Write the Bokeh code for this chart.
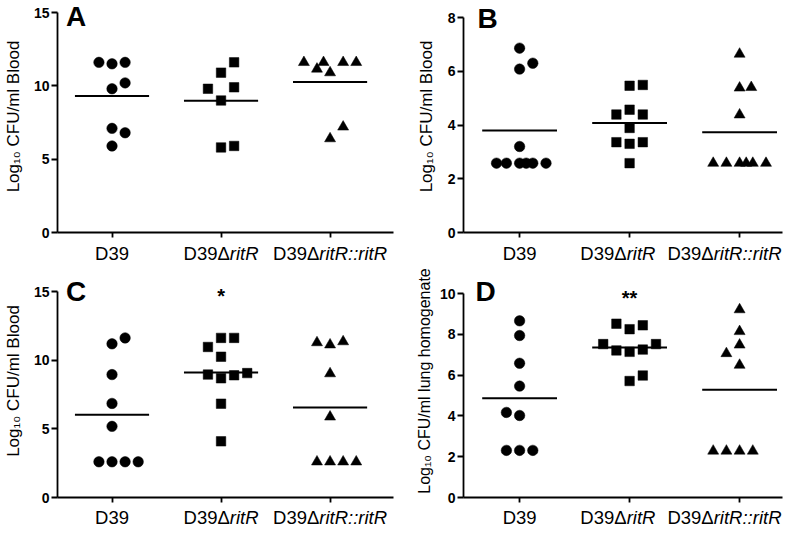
import numpy as np
from bokeh.plotting import figure
from bokeh.layouts import gridplot
from bokeh.models import Range1d, FixedTicker, Label
from bokeh.core.properties import value
from bokeh.embed import file_html
from bokeh.resources import INLINE

FONT = "Liberation Sans"

# ---- categories / tick labels (text part, italic?) ----
categories = ["D39", "D39ΔritR", "D39ΔritR::ritR"]
cat_label_parts = [
    [("D39", False)],
    [("D39Δ", False), ("ritR", True)],
    [("D39Δ", False), ("ritR::ritR", True)],
]
markers = ["circle", "square", "triangle"]
marker_sizes = [10.5, 9.5, 11]

# ---- Panel A : Log10 CFU/ml Blood ----
A_d39 = [11.6, 11.5, 11.6, 10.2, 9.8, 7.1, 6.8, 5.9]
A_d39_jit = [-0.12, 0, 0.12, 0.12, 0, 0, 0.12, 0]
A_ritR = [11.6, 10.9, 9.8, 9.9, 9.0, 5.8, 5.9]
A_ritR_jit = [0.12, 0, -0.12, 0.12, 0, 0, 0.12]
A_comp = [11.6, 11.15, 11.6, 10.9, 11.6, 11.6, 7.2, 6.4]
A_comp_jit = [-0.24, -0.12, -0.06, 0, 0.12, 0.24, 0.12, 0]
A_yticks = [0, 5, 10, 15]

# ---- Panel B ----
B_d39 = [6.86, 6.3, 6.08, 3.2, 2.58, 2.58, 2.58, 2.58, 2.58, 2.58]
B_d39_jit = [0, 0.12, 0, 0, -0.21, -0.12, 0, 0.06, 0.12, 0.24]
B_ritR = [5.46, 5.49, 4.57, 4.39, 4.39, 3.89, 3.36, 3.30, 3.36, 2.58]
B_ritR_jit = [0, 0.12, 0, -0.12, 0.12, 0, -0.12, 0, 0.12, 0]
B_comp = [6.64, 5.38, 5.40, 4.38, 2.58, 2.58, 2.58, 2.58, 2.58, 2.58]
B_comp_jit = [0, 0, 0.106, 0, -0.24, -0.12, 0, 0.06, 0.12, 0.24]
B_yticks = [0, 2, 4, 6, 8]

# ---- Panel C ----
C_d39 = [11.62, 11.19, 8.95, 6.85, 5.18, 2.6, 2.6, 2.6, 2.6]
C_d39_jit = [0.12, 0, 0, 0, 0, -0.12, 0, 0.12, 0.24]
C_ritR = [11.62, 11.62, 10.96, 10.25, 8.95, 8.90, 9.06, 8.68, 6.83, 4.09]
C_ritR_jit = [0, 0.12, -0.12, 0, -0.12, 0.12, 0.24, 0, 0, 0]
C_comp = [11.28, 11.12, 11.35, 9.02, 5.87, 2.6, 2.6, 2.6, 2.6]
C_comp_jit = [-0.12, 0, 0.12, 0, 0, -0.12, 0, 0.12, 0.24]
C_yticks = [0, 5, 10, 15]

# ---- Panel D : lung homogenate ----
D_d39 = [8.66, 7.94, 6.58, 5.46, 4.17, 4.02, 2.31, 2.31, 2.31]
D_d39_jit = [0, 0, 0, 0, -0.12, 0, -0.12, 0, 0.12]
D_ritR = [8.52, 8.25, 8.44, 7.52, 7.52, 7.21, 7.14, 7.25, 5.71, 5.98]
D_ritR_jit = [-0.12, 0, 0.12, -0.24, 0.24, -0.12, 0, 0.12, 0, 0.12]
D_comp = [9.21, 8.14, 7.48, 7.06, 6.49, 2.28, 2.28, 2.28, 2.28]
D_comp_jit = [0, 0, 0, -0.12, 0, -0.24, -0.12, 0, 0.12]
D_yticks = [0, 2, 4, 6, 8, 10]

# Arial/Liberation Sans advance widths (em) for label placement
CHAR_W = {'D': 0.722, '3': 0.556, '9': 0.556, 'Δ': 0.667, 'r': 0.333,
          'i': 0.222, 't': 0.278, 'R': 0.722, ':': 0.278}


def tw(s, fs):
    return sum(CHAR_W.get(c, 0.556) for c in s) * fs


PX = 110.0   # pixels per category unit
CAT_FS = 18.5
GAP = 12


def make_panel(groups, ymax, yticks, ylabel, ylabel_fs, ylabel_standoff,
               letter, letter_dx, letter_dy, W, bl, br, x_start,
               H, axis_top, bb, strip_h, strip_mid, star=None):
    frame_h = H - bb
    scale = (frame_h - axis_top) / ymax
    y_top = ymax + axis_top / scale
    frame_w = W - bl - br
    x_end = x_start + frame_w / PX
    xr = Range1d(x_start, x_end)
    p = figure(width=W, height=H, output_backend="svg", toolbar_location=None,
               x_range=xr, y_range=Range1d(0, y_top),
               min_border_left=bl, min_border_right=br, min_border_top=0,
               min_border_bottom=bb, title=None)
    p.outline_line_color = None
    p.grid.visible = False

    xa, ya = p.xaxis[0], p.yaxis[0]
    for ax in (xa, ya):
        ax.axis_line_color = "black"
        ax.axis_line_width = 1.8
        ax.major_tick_line_color = "black"
        ax.major_tick_line_width = 1.8
        ax.major_tick_in = 0
    ya.bounds = (0, ymax)
    ya.ticker = FixedTicker(ticks=yticks, minor_ticks=[])
    ya.minor_tick_line_color = None
    ya.major_tick_out = 6
    ya.major_label_standoff = 2
    ya.major_label_text_font = FONT
    ya.major_label_text_font_style = "bold"
    ya.major_label_text_font_size = "14px"
    ya.major_label_text_color = "black"
    ya.axis_label = ylabel
    ya.axis_label_text_font = FONT
    ya.axis_label_text_font_style = "normal"
    ya.axis_label_text_font_size = f"{ylabel_fs}px"
    ya.axis_label_text_color = "black"
    ya.axis_label_standoff = ylabel_standoff

    xa.ticker = FixedTicker(ticks=[], minor_ticks=[1, 2, 3])
    xa.major_tick_out = 0
    xa.major_label_standoff = 0
    xa.minor_tick_in = 0
    xa.minor_tick_out = 5
    xa.minor_tick_line_color = "black"
    xa.minor_tick_line_width = 1.8

    for i, (vals, jit) in enumerate(groups):
        cx = i + 1
        xs = [cx + j for j in jit]
        p.scatter(xs, vals, marker=markers[i], size=marker_sizes[i],
                  fill_color="black", line_color="black", line_width=0.5)
        m = float(np.mean(vals))
        p.segment(x0=[cx - 0.34], y0=[m], x1=[cx + 0.34], y1=[m],
                  line_color="black", line_width=2)

    p.add_layout(Label(x=1, y=ymax, x_offset=letter_dx, y_offset=letter_dy,
                       text=letter, text_font=FONT, text_font_size="28px",
                       text_font_style="bold", text_align="left",
                       text_baseline="middle", text_color="black"))
    if star is not None:
        p.add_layout(Label(x=2, y=ymax, y_offset=-4.6, text=star, text_font=FONT,
                           text_font_size="20px", text_font_style="bold",
                           text_align="center", text_baseline="middle",
                           text_color="black"))

    # strip below the panel carrying the category labels (roman + italic parts)
    s = figure(width=W, height=strip_h, output_backend="svg", toolbar_location=None,
               x_range=xr, y_range=Range1d(0, strip_h),
               x_axis_location=None, y_axis_location=None,
               min_border_left=bl, min_border_right=br, min_border_top=0,
               min_border_bottom=0, title=None)
    s.outline_line_color = None
    s.grid.visible = False
    fs = CAT_FS
    widths = [sum(tw(t, fs) for t, _ in parts) for parts in cat_label_parts]
    # absolute left edges in px (category unit -> px)
    lefts = [(i + 1) * PX - w / 2 for i, w in enumerate(widths)]
    right_lim = x_end * PX - 1
    n = len(widths)
    lefts[-1] = min(lefts[-1], right_lim - widths[-1])
    for i in range(n - 2, -1, -1):
        if lefts[i] + widths[i] + GAP > lefts[i + 1]:
            lefts[i] = lefts[i + 1] - GAP - widths[i]
    for i, parts in enumerate(cat_label_parts):
        cx = i + 1
        off = lefts[i] - cx * PX
        for t, it in parts:
            s.text(x=[cx], y=[strip_mid], text=[t], x_offset=off,
                   text_font=value(FONT), text_font_size=value(f"{fs}px"),
                   text_font_style=value("italic" if it else "normal"),
                   text_align=value("left"), text_baseline=value("middle"),
                   text_color="black")
            off += tw(t, fs)
    return p, s


pA, sA = make_panel([(A_d39, A_d39_jit), (A_ritR, A_ritR_jit), (A_comp, A_comp_jit)],
                    15, A_yticks, "Log₁₀ CFU/ml Blood", 17, 8,
                    "A", -46, -3.9, 400, 54, 7, 0.5, 241, 12, 9, 23, 11.5)
pB, sB = make_panel([(B_d39, B_d39_jit), (B_ritR, B_ritR_jit), (B_comp, B_comp_jit)],
                    8, B_yticks, "Log₁₀ CFU/ml Blood", 17, 9,
                    "B", -42, -0.5, 384, 63, 2, 0.49, 241, 17, 9, 23, 11.5)
pC, sC = make_panel([(C_d39, C_d39_jit), (C_ritR, C_ritR_jit), (C_comp, C_comp_jit)],
                    15, C_yticks, "Log₁₀ CFU/ml Blood", 17, 8,
                    "C", -46, 0.3, 400, 54, 7, 0.5, 242, 27, 9, 22, 11, star="*")
pD, sD = make_panel([(D_d39, D_d39_jit), (D_ritR, D_ritR_jit), (D_comp, D_comp_jit)],
                    10, D_yticks, "Log₁₀ CFU/ml lung homogenate", 16, 4,
                    "D", -44, 2.3, 384, 63, 2, 0.49, 242, 29, 9, 22, 11, star="**")

grid = gridplot([[pA, pB], [sA, sB], [pC, pD], [sC, sD]], toolbar_location=None)

open("out.html", "w").write(file_html(grid, INLINE))
